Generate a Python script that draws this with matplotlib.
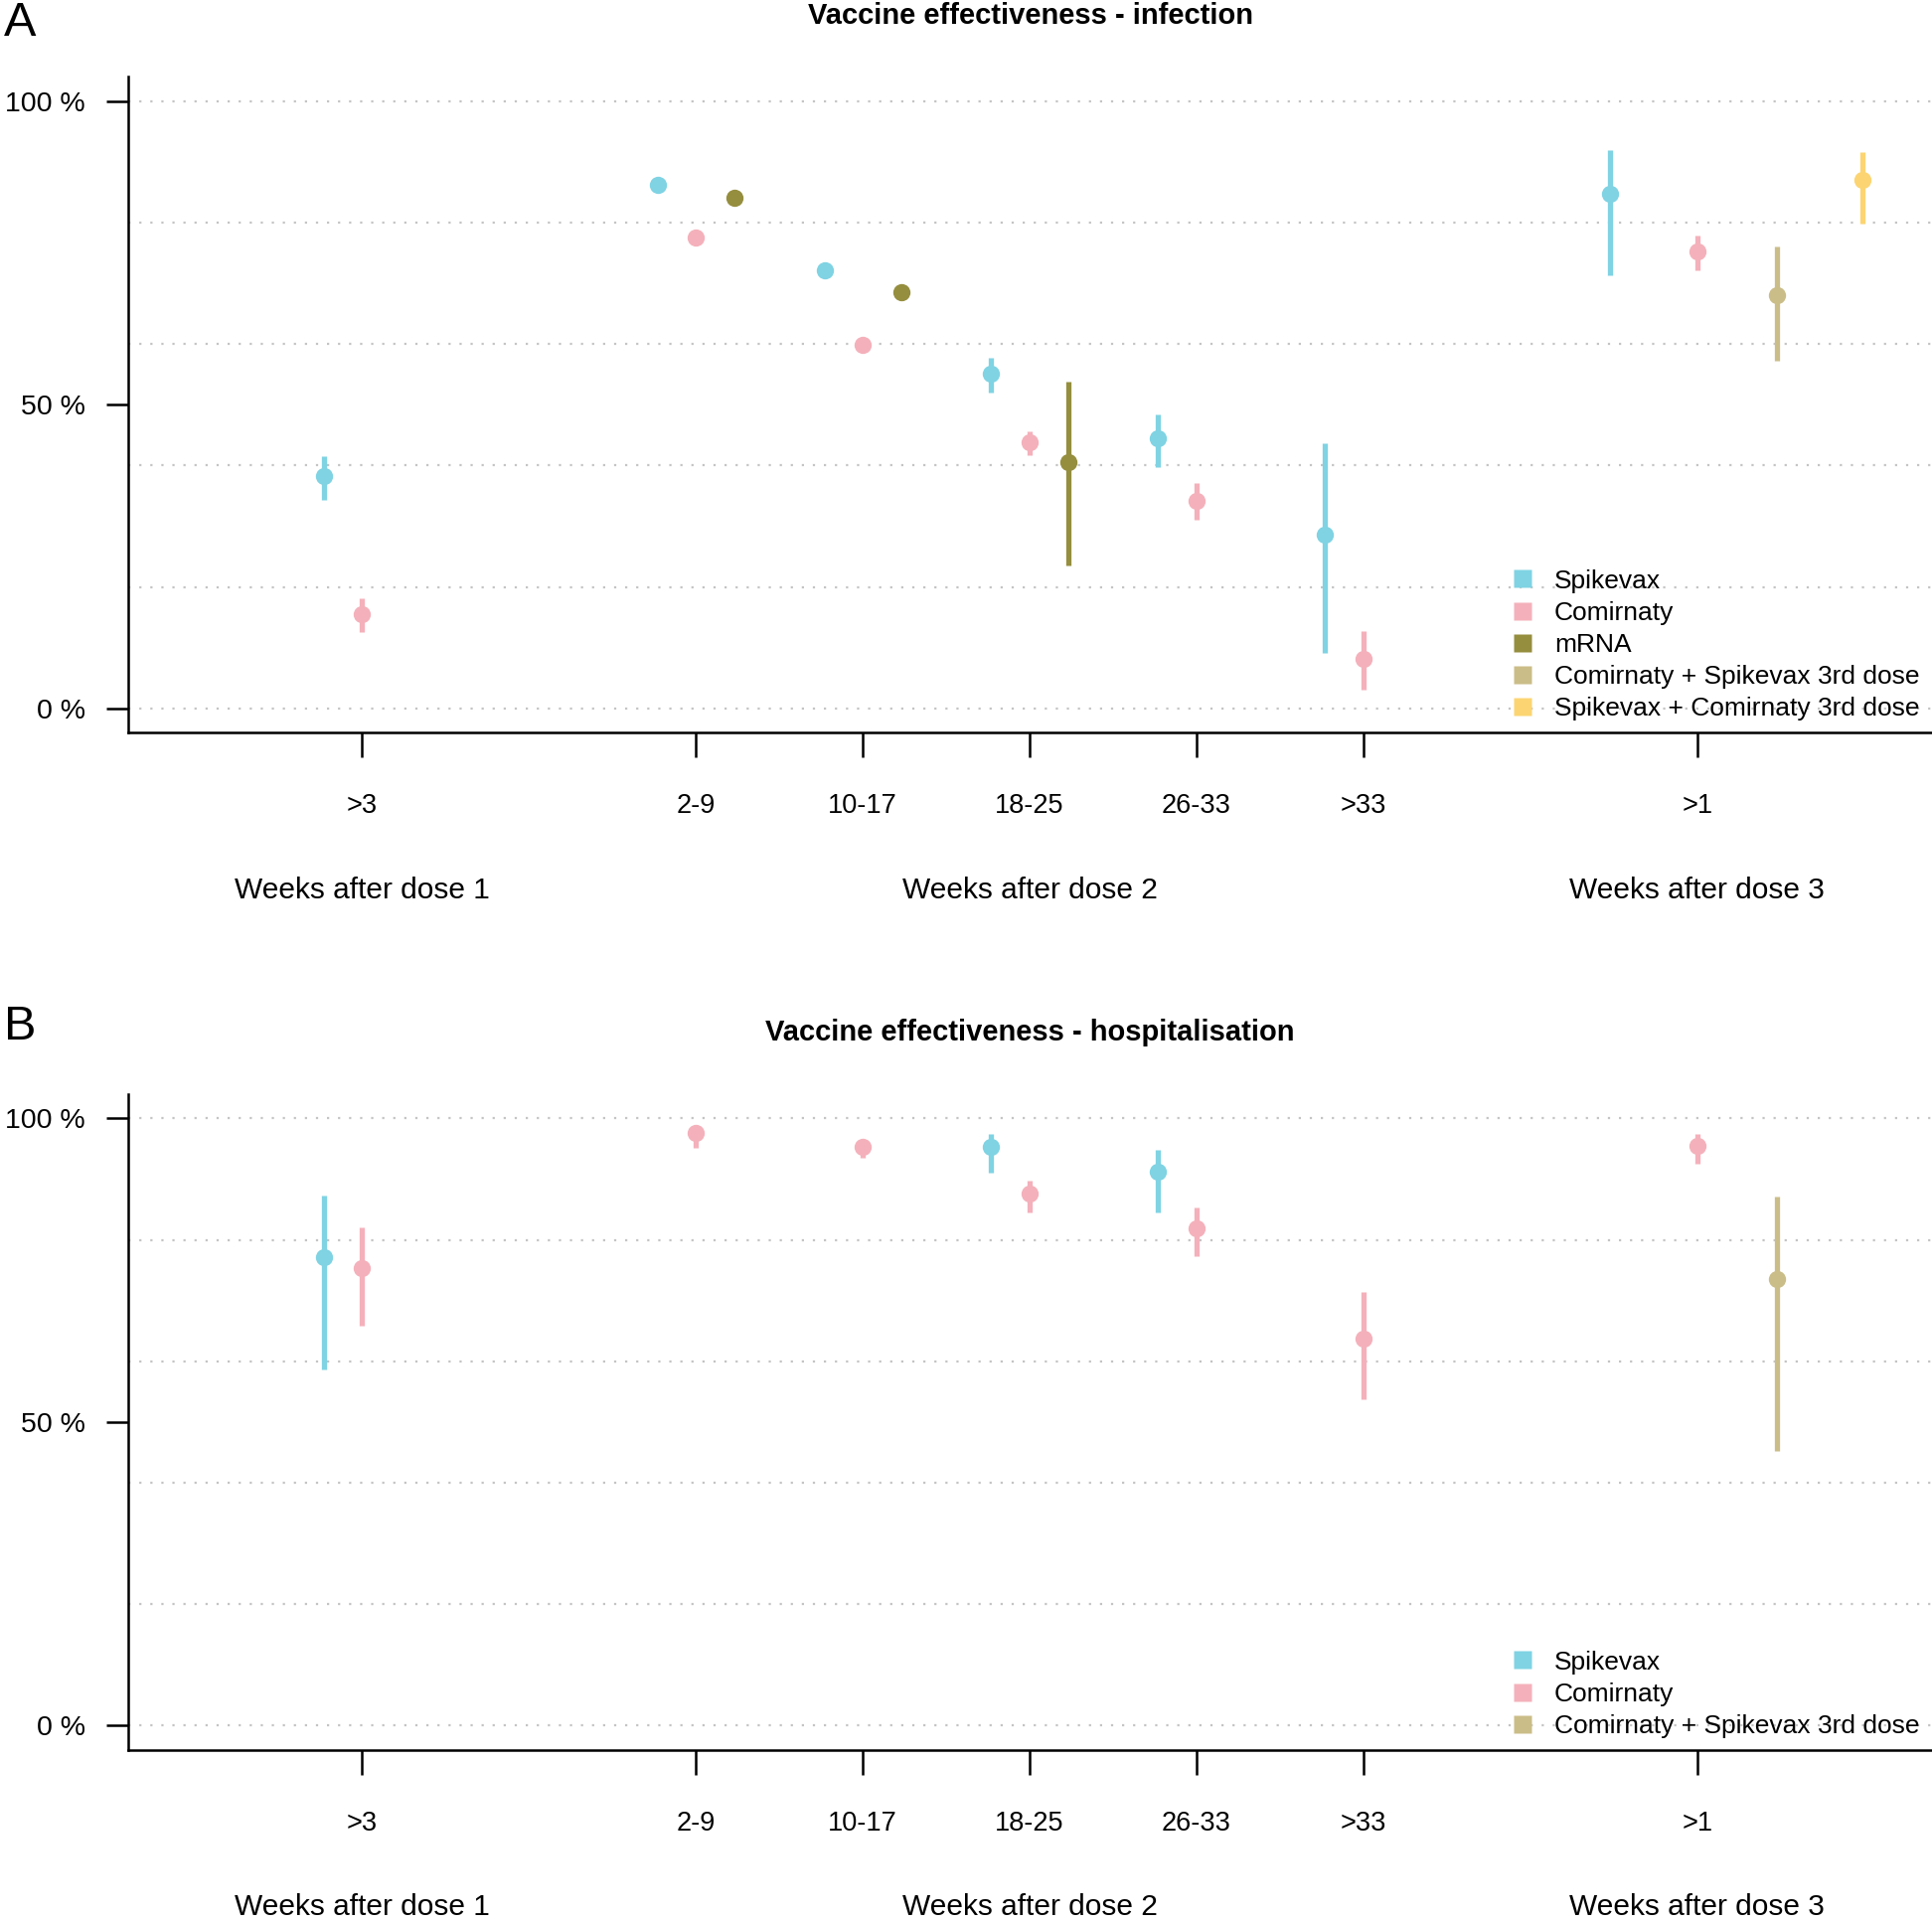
import numpy as np
import matplotlib
matplotlib.use("Agg")
import matplotlib.pyplot as plt
from matplotlib.lines import Line2D

plt.rcParams['font.family'] = ['Liberation Sans', 'DejaVu Sans']

# Categories (weeks after dose) and the dose group they belong to
categorias = ['>3', '2-9', '10-17', '18-25', '26-33', '>33', '>1']
posicoes = [1, 3, 4, 5, 6, 7, 9]
grupos = ['Weeks after dose 1', 'Weeks after dose 2', 'Weeks after dose 3']
posicoes_grupos = [1, 5, 9]

nan = np.nan

# Panel A - infection (point estimate, lower CI, upper CI)
spikevax_inf = [38.2, 86.3, 72.1, 55.2, 44.5, 28.6, 84.8]
spikevax_inf_lo = [34.3, 85.6, 71.3, 52.0, 39.8, 9.1, 71.4]
spikevax_inf_hi = [41.5, 87.0, 73.0, 57.8, 48.4, 43.7, 91.9]

comirnaty_inf = [15.5, 77.5, 59.9, 43.8, 34.1, 8.2, 75.2]
comirnaty_inf_lo = [12.5, 76.9, 59.3, 41.7, 31.0, 3.0, 72.2]
comirnaty_inf_hi = [18.1, 78.2, 60.6, 45.7, 37.1, 12.8, 77.9]

mrna_inf = [nan, 84.1, 68.5, 40.6, nan, nan, nan]
mrna_inf_lo = [nan, 83.5, 67.2, 23.5, nan, nan, nan]
mrna_inf_hi = [nan, 84.7, 69.3, 53.8, nan, nan, nan]

cs_inf = [nan, nan, nan, nan, nan, nan, 68.0]
cs_inf_lo = [nan, nan, nan, nan, nan, nan, 57.2]
cs_inf_hi = [nan, nan, nan, nan, nan, nan, 76.0]

sc_inf = [nan, nan, nan, nan, nan, nan, 87.1]
sc_inf_lo = [nan, nan, nan, nan, nan, nan, 79.8]
sc_inf_hi = [nan, nan, nan, nan, nan, nan, 91.7]

# Panel B - hospitalisation
spikevax_hosp = [77.2, nan, nan, 95.3, 91.2, nan, nan]
spikevax_hosp_lo = [58.7, nan, nan, 91.0, 84.6, nan, nan]
spikevax_hosp_hi = [87.3, nan, nan, 97.5, 94.9, nan, nan]

comirnaty_hosp = [75.4, 97.6, 95.3, 87.6, 81.9, 63.7, 95.5]
comirnaty_hosp_lo = [65.8, 95.1, 93.5, 84.6, 77.3, 53.8, 92.6]
comirnaty_hosp_hi = [82.1, 98.5, 96.3, 89.7, 85.3, 71.5, 97.4]

cs_hosp = [nan, nan, nan, nan, nan, nan, 73.5]
cs_hosp_lo = [nan, nan, nan, nan, nan, nan, 45.3]
cs_hosp_hi = [nan, nan, nan, nan, nan, nan, 87.1]

# Series names and colours
nomes = ['Spikevax', 'Comirnaty', 'mRNA',
         'Comirnaty + Spikevax 3rd dose', 'Spikevax + Comirnaty 3rd dose']
cores = ['#7fd3e3', '#f4b1bb', '#958e3e', '#cbbd88', '#fcd572']

# horizontal shift of each series around the tick (dose 3 group is spread wider)
desloc = [-0.23, 0.0, 0.23, 0.48, 0.99]
desloc_dose3 = [-0.52, 0.0, 0.23, 0.48, 0.99]


def desenhar_painel(ax, series, legenda_idx):
    # dotted grid every 20 %
    for g in range(0, 101, 20):
        ax.axhline(g, color='#c4c4c4', lw=1.6, ls=(0, (1, 4)), zorder=0)

    for idx, (val, lo, hi) in series:
        for i, x in enumerate(posicoes):
            if np.isnan(val[i]):
                continue
            d = desloc_dose3[idx] if categorias[i] == '>1' else desloc[idx]
            ax.plot([x + d, x + d], [lo[i], hi[i]], color=cores[idx], lw=3.8,
                    solid_capstyle='butt', zorder=2)
            ax.plot(x + d, val[i], 'o', color=cores[idx], ms=12.5, mec='none', zorder=3)

    ax.set_xlim(-0.403, 10.407)
    ax.set_ylim(-4, 104)
    ax.set_yticks([0, 50, 100])
    ax.set_yticklabels(['0 %', '50 %', '100 %'], fontsize=20.5)
    ax.set_xticks(posicoes)
    ax.set_xticklabels(categorias, fontsize=19.5)
    ax.tick_params(axis='x', length=18, width=1.8, pad=26)
    ax.tick_params(axis='y', length=16, width=1.8, pad=15)
    for s in ['top', 'right']:
        ax.spines[s].set_visible(False)
    for s in ['left', 'bottom']:
        ax.spines[s].set_linewidth(1.8)

    for nome, xg in zip(grupos, posicoes_grupos):
        ax.annotate(nome, xy=(xg, 0), xycoords=('data', 'axes fraction'),
                    xytext=(0, -114), textcoords='offset points',
                    ha='center', va='center', fontsize=21.5)

    handles = [Line2D([], [], marker='s', ls='none', color=cores[k], ms=13.5, mec='none')
               for k in legenda_idx]
    ax.legend(handles, [nomes[k] for k in legenda_idx], loc='lower right',
              bbox_to_anchor=(0.993, 0.018), frameon=False, fontsize=19,
              labelspacing=0.31, handlelength=1.0, handletextpad=0.72,
              borderpad=0, borderaxespad=0)


fig = plt.figure(figsize=(19.44, 19.35), dpi=100)

# Painel A
axA = fig.add_axes([0.0663, 0.619, 0.9337, 0.341])
desenhar_painel(axA, [(0, (spikevax_inf, spikevax_inf_lo, spikevax_inf_hi)),
                      (1, (comirnaty_inf, comirnaty_inf_lo, comirnaty_inf_hi)),
                      (2, (mrna_inf, mrna_inf_lo, mrna_inf_hi)),
                      (3, (cs_inf, cs_inf_lo, cs_inf_hi)),
                      (4, (sc_inf, sc_inf_lo, sc_inf_hi))],
                [0, 1, 2, 3, 4])
fig.text(0.5332, 1 - 16 / 1935, 'Vaccine effectiveness - infection', ha='center',
         va='center', fontsize=21, fontweight='bold')
fig.text(0.002, 1 - 24 / 1935, 'A', ha='left', va='center', fontsize=35)

# Painel B
axB = fig.add_axes([0.0663, 0.090, 0.9337, 0.341])
desenhar_painel(axB, [(0, (spikevax_hosp, spikevax_hosp_lo, spikevax_hosp_hi)),
                      (1, (comirnaty_hosp, comirnaty_hosp_lo, comirnaty_hosp_hi)),
                      (3, (cs_hosp, cs_hosp_lo, cs_hosp_hi))],
                [0, 1, 3])
fig.text(0.5332, 1 - 1039 / 1935, 'Vaccine effectiveness - hospitalisation', ha='center',
         va='center', fontsize=21, fontweight='bold')
fig.text(0.002, 1 - 1033 / 1935, 'B', ha='left', va='center', fontsize=35)

fig.savefig('out.png', dpi=100)
